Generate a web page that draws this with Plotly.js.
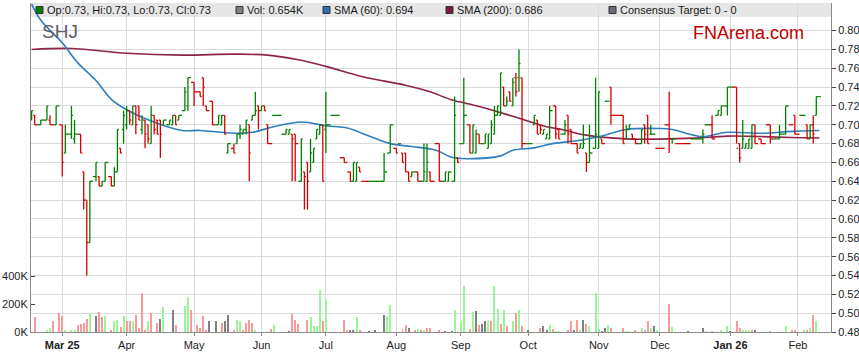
<!DOCTYPE html>
<html><head><meta charset="utf-8">
<script src="https://cdn.plot.ly/plotly-3.0.1.min.js"></script>
<style>html,body{margin:0;padding:0;background:#fff}#c{width:859px;height:363px}</style>
</head><body><div id="c"></div>
<script>
// ---------- DATA ----------
const ticker = 'SHJ';
const priceDates = ['2025-02-17','2025-02-18','2025-02-20','2025-02-24','2025-02-25','2025-02-27','2025-03-03','2025-03-04','2025-03-06','2025-03-07','2025-03-11','2025-03-12','2025-03-13','2025-03-14','2025-03-18','2025-03-19','2025-03-20','2025-03-21','2025-03-25','2025-03-26','2025-03-27','2025-03-28','2025-03-31',
'2025-04-01','2025-04-02','2025-04-03','2025-04-04','2025-04-07','2025-04-08','2025-04-09','2025-04-10','2025-04-11','2025-04-14','2025-04-15','2025-04-16','2025-04-17','2025-04-21','2025-04-22','2025-04-23','2025-04-24','2025-04-28','2025-04-29',
'2025-05-01','2025-05-05','2025-05-06','2025-05-07','2025-05-09','2025-05-13','2025-05-14','2025-05-15','2025-05-16','2025-05-20','2025-05-21','2025-05-22','2025-05-23','2025-05-26','2025-05-27','2025-05-28','2025-05-29','2025-05-30',
'2025-06-02','2025-06-03','2025-06-04','2025-06-09','2025-06-12','2025-06-13','2025-06-16','2025-06-17','2025-06-19','2025-06-20','2025-06-23','2025-06-24','2025-06-25','2025-06-26','2025-06-27','2025-06-30',
'2025-07-01','2025-07-04','2025-07-09','2025-07-11','2025-07-14','2025-07-15','2025-07-16','2025-07-17','2025-07-23','2025-07-28','2025-07-30',
'2025-08-01','2025-08-04','2025-08-05','2025-08-06','2025-08-07','2025-08-08','2025-08-12','2025-08-14','2025-08-15','2025-08-18','2025-08-21','2025-08-25','2025-08-26','2025-08-28','2025-08-29',
'2025-09-01','2025-09-02','2025-09-04','2025-09-05','2025-09-08','2025-09-09','2025-09-10','2025-09-11','2025-09-12','2025-09-15','2025-09-16','2025-09-17','2025-09-18','2025-09-19','2025-09-22','2025-09-23','2025-09-24','2025-09-25','2025-09-26','2025-09-29',
'2025-10-02','2025-10-03','2025-10-06','2025-10-07','2025-10-08','2025-10-09','2025-10-10','2025-10-14','2025-10-15','2025-10-16','2025-10-17','2025-10-20','2025-10-21','2025-10-23','2025-10-24','2025-10-27','2025-10-28','2025-10-29','2025-10-31',
'2025-11-03','2025-11-04','2025-11-06','2025-11-07','2025-11-13','2025-11-14','2025-11-17','2025-11-18','2025-11-19','2025-11-21','2025-11-24','2025-11-25','2025-11-26',
'2025-12-01','2025-12-04','2025-12-05','2025-12-09','2025-12-19','2025-12-22','2025-12-24','2025-12-26','2025-12-29','2025-12-31',
'2026-01-05','2026-01-06','2026-01-07','2026-01-08','2026-01-09','2026-01-12','2026-01-13','2026-01-15','2026-01-20','2026-01-22','2026-01-23','2026-01-26','2026-01-27','2026-01-29','2026-01-30',
'2026-02-04','2026-02-05','2026-02-06','2026-02-09','2026-02-10','2026-02-11'];
const openP = [.705,.71,.70,.705,.705,.70,.70,.67,.69,.685,.69,.65,.62,.575,.645,.645,.635,.64,.645,.635,.65,.675,.695,
.70,.715,.70,.72,.72,.695,.705,.70,.68,.71,.705,.705,.70,.70,.70,.71,.705,.715,.72,
.745,.735,.75,.72,.725,.70,.70,.71,.67,.675,.68,.69,.69,.695,.70,.705,.71,.72,
.715,.72,.70,.71,.69,.69,.69,.69,.64,.65,.66,.65,.66,.685,.69,.70,
.695,.71,.665,.65,.64,.64,.655,.64,.64,.64,.67,
.675,.68,.67,.67,.65,.645,.65,.64,.64,.65,.68,.64,.64,.64,.665,
.68,.68,.70,.67,.67,.69,.68,.68,.675,.68,.69,.71,.71,.74,.72,.735,.72,.75,.75,.75,
.68,.70,.705,.70,.69,.685,.685,.72,.695,.69,.69,.71,.695,.68,.675,.675,.67,.66,.675,
.675,.685,.725,.74,.71,.685,.695,.69,.685,.68,.70,.71,.69,
.675,.70,.685,.68,.685,.70,.70,.71,.71,.72,
.74,.68,.675,.675,.675,.675,.70,.685,.70,.685,.685,.69,.69,.70,.71,
.71,.70,.685,.70,.71,.73];
const highP = [.715,.71,.705,.72,.71,.72,.70,.70,.72,.705,.69,.65,.62,.64,.66,.645,.64,.66,.645,.655,.695,.675,.715,
.72,.715,.72,.72,.72,.71,.705,.70,.72,.71,.705,.705,.705,.705,.71,.71,.71,.74,.75,
.745,.735,.75,.72,.725,.71,.71,.71,.68,.68,.69,.70,.695,.705,.70,.71,.735,.72,
.72,.72,.70,.71,.695,.695,.69,.69,.685,.65,.66,.685,.675,.695,.70,.70,
.735,.71,.665,.65,.66,.66,.655,.64,.64,.67,.70,
.675,.68,.67,.67,.65,.65,.65,.68,.68,.65,.68,.65,.65,.73,.665,
.68,.75,.70,.70,.695,.69,.68,.69,.69,.705,.72,.72,.755,.74,.73,.735,.75,.755,.78,.75,
.68,.71,.705,.70,.695,.69,.72,.72,.695,.69,.705,.71,.695,.68,.68,.70,.67,.70,.75,
.735,.685,.725,.74,.71,.70,.70,.69,.685,.695,.70,.71,.70,
.675,.735,.685,.68,.695,.70,.71,.715,.72,.74,
.74,.68,.705,.68,.685,.70,.70,.685,.70,.685,.70,.69,.72,.70,.71,
.71,.70,.70,.71,.73,.73];
const lowP = [.705,.70,.70,.705,.70,.70,.645,.67,.685,.68,.67,.61,.54,.575,.64,.635,.635,.64,.635,.635,.65,.67,.68,
.695,.70,.70,.69,.705,.69,.675,.68,.68,.69,.69,.665,.70,.70,.70,.70,.705,.715,.715,
.72,.73,.72,.715,.70,.70,.70,.69,.67,.67,.68,.685,.69,.69,.64,.705,.71,.695,
.715,.715,.68,.71,.69,.69,.64,.64,.64,.61,.61,.65,.66,.685,.69,.64,
.67,.71,.66,.64,.64,.64,.65,.64,.64,.64,.67,
.67,.68,.66,.65,.64,.645,.64,.64,.64,.64,.64,.64,.64,.64,.66,
.68,.68,.67,.67,.67,.68,.68,.68,.675,.68,.69,.71,.71,.72,.72,.725,.72,.73,.735,.675,
.68,.70,.69,.69,.69,.685,.685,.685,.685,.69,.69,.68,.68,.67,.675,.675,.65,.66,.675,
.675,.68,.725,.70,.68,.685,.695,.685,.68,.68,.68,.68,.69,
.675,.67,.68,.68,.68,.70,.685,.71,.71,.71,
.68,.66,.675,.675,.675,.675,.68,.68,.68,.685,.685,.69,.69,.70,.69,
.71,.685,.685,.68,.71,.73];
const closeP = [.715,.70,.705,.72,.70,.72,.66,.69,.71,.69,.67,.62,.575,.64,.66,.635,.64,.66,.635,.65,.695,.67,.71,
.715,.705,.72,.70,.705,.705,.69,.685,.71,.695,.69,.69,.705,.705,.71,.70,.71,.735,.75,
.735,.73,.74,.715,.70,.71,.71,.69,.68,.67,.69,.695,.695,.705,.67,.71,.715,.715,
.72,.715,.68,.71,.695,.695,.685,.68,.685,.645,.64,.67,.675,.695,.70,.64,
.70,.71,.66,.64,.66,.66,.65,.64,.64,.65,.70,
.67,.68,.66,.65,.64,.65,.64,.65,.66,.64,.64,.65,.65,.71,.66,
.68,.71,.67,.70,.69,.68,.68,.69,.69,.70,.71,.72,.755,.72,.725,.725,.745,.735,.765,.68,
.68,.71,.69,.695,.695,.69,.715,.69,.685,.69,.70,.69,.68,.67,.68,.68,.66,.67,.69,
.735,.68,.725,.71,.68,.695,.70,.685,.68,.695,.69,.68,.69,
.675,.685,.685,.68,.69,.70,.685,.715,.72,.74,
.675,.665,.685,.68,.685,.70,.68,.68,.685,.685,.69,.69,.72,.70,.69,
.71,.685,.70,.69,.73,.73];

const volDates = ['2025-02-18','2025-02-24','2025-02-25','2025-02-26','2025-02-28','2025-03-03','2025-03-04','2025-03-06','2025-03-07','2025-03-10','2025-03-11','2025-03-12','2025-03-13','2025-03-14','2025-03-18','2025-03-19','2025-03-20','2025-03-21','2025-03-25','2025-03-26','2025-03-27','2025-03-28','2025-03-31',
'2025-04-01','2025-04-02','2025-04-03','2025-04-04','2025-04-07','2025-04-08','2025-04-09','2025-04-10','2025-04-11','2025-04-15','2025-04-16','2025-04-17','2025-04-22','2025-04-23','2025-04-28','2025-04-29','2025-04-30',
'2025-05-02','2025-05-05','2025-05-06','2025-05-07','2025-05-08','2025-05-12','2025-05-14','2025-05-15','2025-05-16','2025-05-20','2025-05-21','2025-05-22','2025-05-23','2025-05-26','2025-05-27','2025-05-28','2025-05-29',
'2025-06-05','2025-06-06','2025-06-13','2025-06-16','2025-06-17','2025-06-18','2025-06-23','2025-06-24','2025-06-25','2025-06-26','2025-06-27','2025-06-30',
'2025-07-01','2025-07-09','2025-07-10','2025-07-11','2025-07-14','2025-07-15','2025-07-16','2025-07-21','2025-07-23','2025-07-28','2025-07-29','2025-07-30',
'2025-08-05','2025-08-06','2025-08-07','2025-08-11','2025-08-12','2025-08-13','2025-08-14','2025-08-15','2025-08-18','2025-08-21','2025-08-25','2025-08-27','2025-08-28',
'2025-09-01','2025-09-02','2025-09-04','2025-09-05','2025-09-08','2025-09-09','2025-09-10','2025-09-11','2025-09-12','2025-09-15','2025-09-16','2025-09-17','2025-09-18','2025-09-19','2025-09-22','2025-09-24','2025-09-25','2025-09-26','2025-09-29',
'2025-10-01','2025-10-07','2025-10-08','2025-10-09','2025-10-10','2025-10-13','2025-10-14','2025-10-15','2025-10-20','2025-10-21','2025-10-22','2025-10-23','2025-10-24','2025-10-27','2025-10-28','2025-10-29','2025-10-31',
'2025-11-03','2025-11-04','2025-11-05','2025-11-06','2025-11-07','2025-11-13','2025-11-14','2025-11-17','2025-11-19','2025-11-21','2025-11-24','2025-11-25','2025-11-26','2025-11-27','2025-11-28',
'2025-12-04','2025-12-05','2025-12-12','2025-12-19','2025-12-22','2025-12-24','2025-12-29','2025-12-31',
'2026-01-01','2026-01-05','2026-01-06','2026-01-07','2026-01-08','2026-01-09','2026-01-12','2026-01-13','2026-01-20','2026-01-27','2026-01-29','2026-01-30',
'2026-02-04','2026-02-05','2026-02-06','2026-02-09','2026-02-10','2026-02-11'];
const volK = [105,16,29,76,136,112,16,16,12,52,60,64,93,131,117,143,105,117,16,76,88,36,117,
76,76,76,124,29,279,16,76,136,64,95,179,159,52,183,248,155,
52,29,112,16,76,76,64,76,124,12,88,76,12,64,88,64,16,
21,52,9,131,88,60,88,105,45,41,298,76,
238,88,12,12,12,105,16,9,16,124,117,195,
21,52,29,12,24,12,16,29,29,16,9,9,159,
76,326,24,143,152,52,60,81,76,81,331,166,60,159,41,81,136,159,45,
16,29,41,16,52,24,9,9,16,76,16,88,16,88,60,41,279,
21,9,29,52,29,29,9,9,16,29,16,76,29,45,16,
202,36,9,29,9,9,16,41,
9,76,29,16,16,16,16,16,9,45,16,16,
16,12,29,124,81,0.654];
const volTrend = ['d','u','u','d','d','d','u','u','u','d','d','d','d','u','f','d','d','u','d','u','u','d','u',
'd','d','u','d','d','d','d','u','d','d','f','u','f','d','u','u','d',
'd','d','d','d','f','f','d','f','f','d','u','u','d','d','d','d','u',
'd','u','f','d','d','d','d','u','u','u','u','d',
'u','d','d','f','f','u','d','f','f','f','u','u',
'd','d','f','d','u','d','u','d','d','d','f','f','u',
'u','u','d','u','f','d','f','f','u','d','u','u','d','u','d','u','d','u','d',
'f','d','f','f','u','d','u','u','d','d','f','d','u','f','d','u','u',
'u','f','f','u','d','d','u','u','d','u','d','d','u','f','u',
'd','u','f','f','u','d','u','u',
'f','d','d','u','u','u','d','f','d','u','d','d',
'u','d','u','d','u','f'];

const sma60Dates = ['2025-02-17','2025-02-20','2025-03-03','2025-03-10','2025-03-18','2025-03-25','2025-04-01','2025-04-11','2025-04-25','2025-05-05','2025-05-20','2025-05-28','2025-06-06','2025-06-19','2025-07-01','2025-07-10','2025-07-18','2025-07-30','2025-08-08','2025-08-20','2025-08-27','2025-09-03','2025-09-18','2025-09-24','2025-10-03','2025-10-13','2025-10-24','2025-11-04','2025-11-14','2025-12-01','2025-12-05','2025-12-16','2025-12-19','2025-12-31','2026-01-15','2026-01-29','2026-02-11'];
const sma60Vals = [.828,.811,.787,.766,.747,.727,.716,.704,.694,.694,.691,.692,.698,.703,.699,.6965,.6895,.680,.677,.673,.6655,.664,.667,.673,.6755,.680,.6835,.688,.695,.696,.695,.689,.6875,.692,.691,.693,.694];
const sma200Dates = ['2025-02-17','2025-03-06','2025-04-01','2025-04-25','2025-05-20','2025-06-04','2025-06-18','2025-07-01','2025-07-17','2025-08-06','2025-08-18','2025-08-27','2025-09-09','2025-09-24','2025-10-09','2025-10-16','2025-10-28','2025-11-14','2025-12-01','2025-12-16','2025-12-31','2026-01-15','2026-01-29','2026-02-11'];
const sma200Vals = [.780,.781,.776,.774,.775,.774,.769,.762,.751,.742,.735,.7265,.7195,.709,.698,.695,.689,.685,.6848,.6858,.688,.6875,.6865,.686];

const monthTickDates = ['2025-03-01','2025-04-01','2025-05-01','2025-06-01','2025-07-01','2025-08-01','2025-09-01','2025-10-01','2025-11-01','2025-12-01','2026-01-01','2026-02-01'];
const monthTickLabels = ['<b>Mar 25</b>','Apr','May','Jun','Jul','Aug','Sep','Oct','Nov','Dec','<b>Jan 26</b>','Feb'];
const priceTicks = [0.48,0.50,0.52,0.54,0.56,0.58,0.60,0.62,0.64,0.66,0.68,0.70,0.72,0.74,0.76,0.78,0.80];
const volTicks = [0,200000,400000];
const volTickLabels = ['0K','200K','400K'];

// ---------- trading-day (weekday) scale ----------
function wd(s){
  const base = Date.UTC(2025,2,3); // Monday
  const p = s.split('-').map(Number);
  const days = Math.round((Date.UTC(p[0],p[1]-1,p[2]) - base)/864e5);
  const w = Math.floor(days/7), r = days - w*7;
  return w*5 + Math.min(r,5);
}

const GREEN = '#008000', RED = '#d40000';
const X = priceDates.map(wd);
function bars(up){
  const xs=[], ys=[];
  for(let i=0;i<X.length;i++){
    const o=openP[i],h=highP[i],l=lowP[i],c=closeP[i];
    const isUp = c>o || (c===o && (i===0 || c>=closeP[i-1]));
    if(isUp!==up) continue;
    const x=X[i];
    const xl = i>0 ? (X[i-1]+x)/2 : x-0.5;
    const xr = i<X.length-1 ? (x+X[i+1])/2 : x+0.5;
    xs.push(xl,x,null,x,x,null,x,xr,null);
    ys.push(o,o,null,l,h,null,c,c,null);
  }
  return {x:xs,y:ys};
}
const g = bars(true), r = bars(false);
const volColor = {u:'#98f598', d:'#f79a9a', f:'#808080'};

const traces = [
  {type:'bar', x:volDates.map(wd), y:volK.map(v=>v*1000), width:0.65, yaxis:'y',
   marker:{color:volTrend.map(t=>volColor[t]), line:{width:0}}, hoverinfo:'skip'},
  {type:'scatter', mode:'lines', x:sma200Dates.map(wd), y:sma200Vals, yaxis:'y2',
   line:{color:'#8e2348', width:1.6, shape:'spline', smoothing:1}, hoverinfo:'skip'},
  {type:'scatter', mode:'lines', x:sma60Dates.map(wd), y:sma60Vals, yaxis:'y2',
   line:{color:'#2f7fc0', width:1.6, shape:'spline', smoothing:1}, hoverinfo:'skip'},
  {type:'scatter', mode:'lines', x:g.x, y:g.y, yaxis:'y2', connectgaps:false,
   line:{color:GREEN, width:1.3}, hoverinfo:'skip'},
  {type:'scatter', mode:'lines', x:r.x, y:r.y, yaxis:'y2', connectgaps:false,
   line:{color:RED, width:1.3}, hoverinfo:'skip'}
];

// legend strip values from the data
const n = closeP.length;
const f2 = v => v.toFixed(2);
const legendItems = [
  {color:GREEN, text:`Op:${f2(openP[n-1])}, Hi:${f2(highP[n-1])}, Lo:${f2(lowP[n-1])}, Cl:${f2(closeP[n-1])}`, x:36},
  {color:'#808080', text:`Vol: ${volK[volK.length-1].toFixed(3)}K`, x:236},
  {color:'#2f6fb0', text:`SMA (60): ${sma60Vals[sma60Vals.length-1].toFixed(3)}`, x:323},
  {color:'#7b1c3c', text:`SMA (200): ${sma200Vals[sma200Vals.length-1].toFixed(3)}`, x:446},
  {color:'#6a6a7e', text:'Consensus Target: 0 - 0', x:609}
];
const L=31, W=800, B=332, H=329;
const px = X0 => (X0-L)/W, py = Y0 => (B-Y0)/H;

const shapes = [
  {type:'rect', xref:'paper', yref:'paper', x0:0, x1:1, y0:py(17), y1:1, fillcolor:'#e6e6e6', line:{width:0}, layer:'below'}
];
const annotations = [];
legendItems.forEach(it=>{
  shapes.push({type:'rect', xref:'paper', yref:'paper', x0:px(it.x), x1:px(it.x+7), y0:py(13.5), y1:py(6.5),
    fillcolor:it.color, line:{color:'#333', width:1}, layer:'above'});
  annotations.push({xref:'paper', yref:'paper', x:px(it.x+10), y:py(10), xanchor:'left', yanchor:'middle',
    text:it.text, showarrow:false, borderpad:0, font:{size:11, color:'#1a1a1a', family:'Liberation Sans, Arial, sans-serif'}});
});
annotations.push({xref:'paper', yref:'paper', x:px(41), y:py(32), xanchor:'left', yanchor:'middle', text:ticker,
  showarrow:false, borderpad:0, font:{size:19, color:'#5c5f66', family:'Liberation Sans, Arial, sans-serif'}});
annotations.push({xref:'paper', yref:'paper', x:px(692), y:py(33), xanchor:'left', yanchor:'middle', text:'FNArena.com',
  showarrow:false, borderpad:0, font:{size:18, color:'#c00000', family:'Liberation Sans, Arial, sans-serif'}});

const layout = {
  width:859, height:363, margin:{l:31, r:28, t:3, b:31, pad:0},
  paper_bgcolor:'#fff', plot_bgcolor:'#fff', showlegend:false, bargap:0,
  font:{family:'Liberation Sans, Arial, sans-serif', size:11, color:'#222'},
  xaxis:{range:[wd('2025-02-17')-0.2, wd('2026-02-16')+0.8], tickmode:'array',
    tickvals:monthTickDates.map(wd), ticktext:monthTickLabels,
    showgrid:true, gridcolor:'#dadada', gridwidth:1, zeroline:false,
    showline:true, linecolor:'#8a8a8a', linewidth:1, ticks:'outside', ticklen:3, tickcolor:'#8a8a8a',
    tickfont:{size:11, color:'#222'}, fixedrange:true},
  yaxis:{range:[0, 2352000], side:'left', tickmode:'array', tickvals:volTicks, ticktext:volTickLabels,
    showgrid:false, zeroline:false, showline:true, linecolor:'#8a8a8a', linewidth:1,
    ticks:'inside', ticklen:4, tickcolor:'#444', tickfont:{size:11, color:'#222'}, fixedrange:true},
  yaxis2:{range:[0.48, 0.8293], overlaying:'y', side:'right', tickmode:'array', tickvals:priceTicks,
    tickformat:'.2f', showgrid:true, gridcolor:'#dadada', gridwidth:1, zeroline:false,
    showline:true, linecolor:'#8a8a8a', linewidth:1, ticks:'outside', ticklen:4, tickcolor:'#444',
    tickfont:{size:11, color:'#222'}, fixedrange:true},
  shapes:shapes, annotations:annotations
};
Plotly.newPlot('c', traces, layout, {displayModeBar:false, staticPlot:true});
</script>
</body></html>
